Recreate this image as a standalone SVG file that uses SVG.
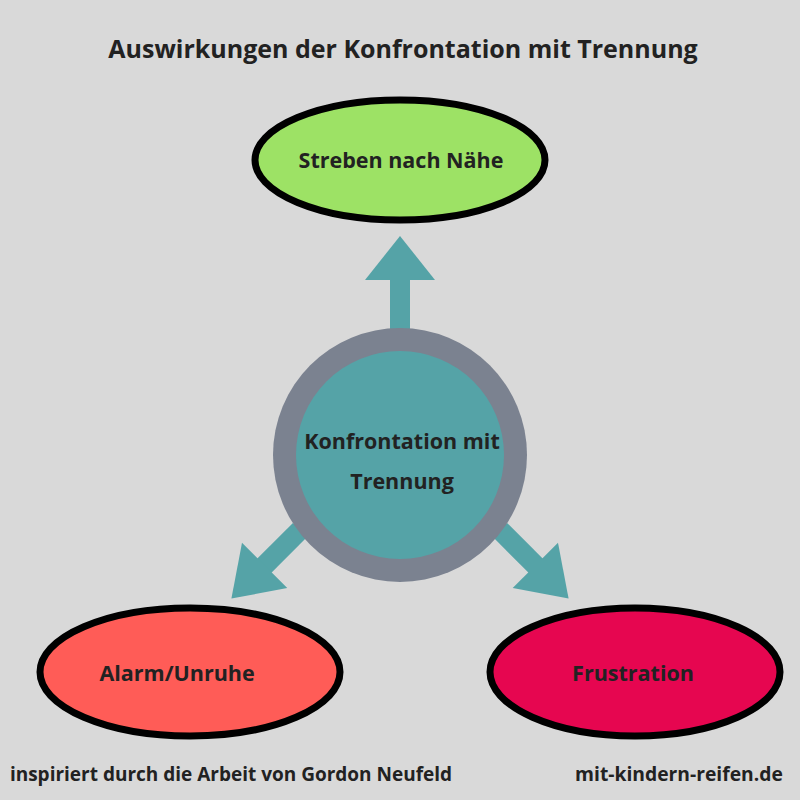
<svg xmlns="http://www.w3.org/2000/svg" width="800" height="800" viewBox="0 0 800 800">
<style>
text{font-family:"Open Sans","DejaVu Sans",sans-serif;font-weight:bold;fill:#222;text-anchor:middle}
.arr{fill:#55a3a7}
.ell{stroke:#000;stroke-width:7}
</style>
<rect width="800" height="800" fill="#d9d9d9"/>
<text x="403" y="58" font-size="25">Auswirkungen der Konfrontation mit Trennung</text>
<g id="connectors">
<rect class="arr" x="390" y="278" width="20" height="58"/>
<polygon class="arr" points="365,280 435,280 400,236"/>
<g transform="translate(300,530) rotate(135)">
<rect class="arr" x="0" y="-10" width="55" height="20"/>
<polygon class="arr" points="50,-32 50,32 97,0"/>
</g>
<g transform="translate(500,530) rotate(45)">
<rect class="arr" x="0" y="-10" width="55" height="20"/>
<polygon class="arr" points="50,-32 50,32 97,0"/>
</g>
</g>
<g id="top"><ellipse class="ell" cx="400" cy="160" rx="145" ry="60" fill="#9de265"/>
<text x="401" y="168" font-size="21.5">Streben nach Nähe</text></g>
<g id="center"><circle cx="400" cy="455" r="127" fill="#7b8290"/><circle cx="400" cy="455" r="104" fill="#55a3a7"/>
<text x="402" y="449" font-size="21.5">Konfrontation mit</text><text x="402" y="489" font-size="21.5">Trennung</text></g>
<g id="left"><ellipse class="ell" cx="190" cy="672" rx="150" ry="64" fill="#ff5c57"/>
<text x="177" y="681" font-size="21.5">Alarm/Unruhe</text></g>
<g id="right"><ellipse class="ell" cx="635" cy="672" rx="145" ry="64" fill="#e60650"/>
<text x="633" y="681" font-size="21.5">Frustration</text></g>
<text x="231" y="781" font-size="19">inspiriert durch die Arbeit von Gordon Neufeld</text>
<text x="679" y="781" font-size="19.3">mit-kindern-reifen.de</text>
</svg>
